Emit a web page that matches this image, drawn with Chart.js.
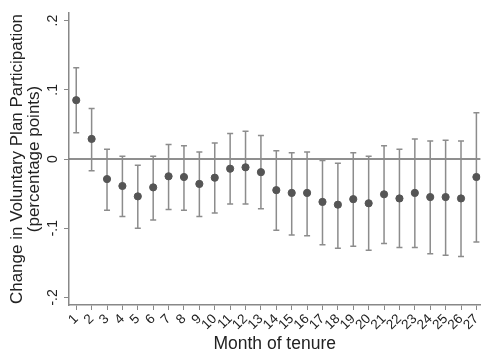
<!DOCTYPE html>
<html>
<head>
<meta charset="utf-8">
<script src="https://cdn.jsdelivr.net/npm/chart.js@4"></script>
<style>
  html, body { margin: 0; padding: 0; background: #fff; }
  #wrap { width: 485px; height: 356px; }
</style>
</head>
<body>
<div id="wrap"><canvas id="tenureChart" width="485" height="356"></canvas></div>
<script>
const months = [1, 2, 3, 4, 5, 6, 7, 8, 9, 10, 11, 12, 13, 14, 15, 16, 17, 18, 19, 20, 21, 22, 23, 24, 25, 26, 27];
const estimate = [
  0.085, 0.029, -0.029, -0.039, -0.054, -0.041, -0.025, -0.026, -0.036, -0.027,
  -0.014, -0.012, -0.019, -0.045, -0.049, -0.049, -0.062, -0.066, -0.058, -0.064,
  -0.051, -0.057, -0.049, -0.055, -0.055, -0.057, -0.026
];
const upper = [
  0.132, 0.073, 0.014, 0.004, -0.009, 0.004, 0.021, 0.019, 0.010, 0.023,
  0.037, 0.040, 0.034, 0.012, 0.009, 0.010, -0.002, -0.006, 0.009, 0.004,
  0.019, 0.014, 0.029, 0.026, 0.027, 0.026, 0.067
];
const lower = [
  0.038, -0.017, -0.074, -0.083, -0.100, -0.088, -0.073, -0.074, -0.083, -0.078,
  -0.065, -0.065, -0.072, -0.103, -0.110, -0.111, -0.124, -0.129, -0.126, -0.132,
  -0.122, -0.128, -0.128, -0.137, -0.139, -0.141, -0.120
];
const yTicks = [-0.2, -0.1, 0, 0.1, 0.2];
const yTickLabels = ['-.2', '-.1', '0', '.1', '.2'];

// error bars + zero line, drawn with the chart's scales
const ciPlugin = {
  id: 'ciBars',
  beforeDatasetsDraw(chart) {
    const ctx = chart.ctx;
    const xs = chart.scales.x, ys = chart.scales.y;
    const area = chart.chartArea;
    ctx.save();
    ctx.strokeStyle = '#6a6a6a';
    ctx.lineWidth = 1.5;
    ctx.beginPath();
    ctx.moveTo(area.left, ys.getPixelForValue(0));
    ctx.lineTo(area.right, ys.getPixelForValue(0));
    ctx.stroke();

    ctx.strokeStyle = '#8c8c8c';
    ctx.lineWidth = 1.5;
    months.forEach((m, i) => {
      const x = xs.getPixelForValue(m);
      const yHi = ys.getPixelForValue(upper[i]);
      const yLo = ys.getPixelForValue(lower[i]);
      ctx.beginPath();
      ctx.moveTo(x, yHi);
      ctx.lineTo(x, yLo);
      ctx.moveTo(x - 3, yHi);
      ctx.lineTo(x + 3, yHi);
      ctx.moveTo(x - 3, yLo);
      ctx.lineTo(x + 3, yLo);
      ctx.stroke();
    });
    ctx.restore();
  }
};

Chart.defaults.font.family = '"Liberation Sans", Arial, sans-serif';
Chart.defaults.color = '#222';

new Chart(document.getElementById('tenureChart'), {
  type: 'scatter',
  plugins: [ciPlugin],
  data: {
    datasets: [{
      label: 'Estimate',
      data: months.map((m, i) => ({ x: m, y: estimate[i] })),
      backgroundColor: '#555555',
      borderColor: '#555555',
      pointRadius: 3.6,
      pointHoverRadius: 3.6
    }]
  },
  options: {
    responsive: false,
    animation: false,
    layout: { padding: { top: 13, right: 0, left: 0, bottom: 0 } },
    plugins: {
      legend: { display: false },
      tooltip: { enabled: false }
    },
    scales: {
      x: {
        type: 'linear',
        min: 0.53,
        max: 27.26,
        afterBuildTicks: (scale) => { scale.ticks = months.map(v => ({ value: v })); },
        afterFit: (scale) => { scale.height = 51; scale.paddingLeft = 0; scale.paddingRight = 0; },
        grid: { display: true, drawOnChartArea: false, tickLength: 5, color: '#888' },
        border: { color: '#888', width: 1.5 },
        ticks: {
          minRotation: 45,
          maxRotation: 45,
          autoSkip: false,
          padding: 1,
          font: { size: 13.5 },
          color: '#222',
          callback: (v) => String(v)
        },
        title: {
          display: true,
          text: 'Month of tenure',
          font: { size: 17.5 },
          color: '#222',
          padding: { top: 0, bottom: 1 }
        }
      },
      y: {
        min: -0.211,
        max: 0.211,
        afterBuildTicks: (scale) => { scale.ticks = yTicks.map(v => ({ value: v })); },
        afterFit: (scale) => { scale.width = 69; },
        grid: { display: true, drawOnChartArea: false, tickLength: 5, color: '#888' },
        border: { color: '#888', width: 1.5 },
        ticks: {
          minRotation: 90,
          maxRotation: 90,
          crossAlign: 'center',
          padding: 3,
          font: { size: 14 },
          color: '#222',
          callback: (v) => {
            const k = yTicks.findIndex(t => Math.abs(t - v) < 1e-9);
            return k >= 0 ? yTickLabels[k] : '';
          }
        },
        title: {
          display: true,
          text: ['Change in Voluntary Plan Participation', '(percentage points)'],
          font: { size: 17, lineHeight: 1.0 },
          color: '#222',
          padding: { top: 9, bottom: 0 }
        }
      }
    }
  }
});
</script>
</body>
</html>
